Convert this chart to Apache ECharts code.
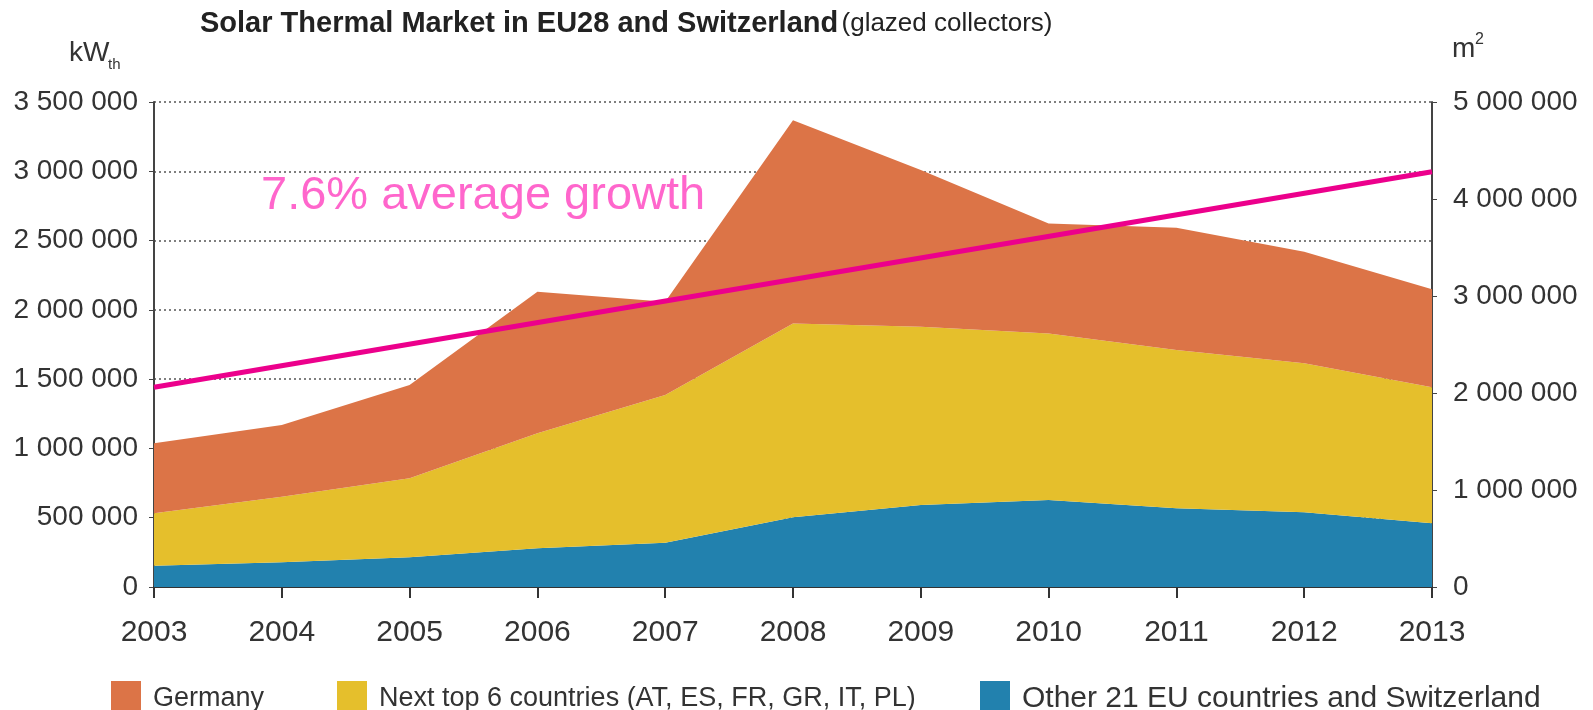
<!DOCTYPE html>
<html>
<head>
<meta charset="utf-8">
<script src="https://cdn.jsdelivr.net/npm/echarts@6/dist/echarts.min.js"></script>
<style>
html,body{margin:0;padding:0;background:#fff;}
#c{width:1593px;height:710px;}
</style>
</head>
<body>
<div id="c"></div>
<script>
// ---- data (kWth) ----
var years = ['2003','2004','2005','2006','2007','2008','2009','2010','2011','2012','2013'];
var other21 = [154000, 178000, 214000, 279000, 320000, 503000, 592000, 628000, 568000, 539000, 460000];
var nextTop6 = [378000, 474000, 570000, 830000, 1065000, 1399000, 1286000, 1202000, 1142000, 1075000, 981000];
var germany = [505000, 517000, 673000, 1022000, 673000, 1467000, 1131000, 794000, 883000, 805000, 707000];
// trend line: start (2003) and end (2013) values only
var trendStart = 1441000;
var trendEnd = 2996000;
var leftTicks = [0, 500000, 1000000, 1500000, 2000000, 2500000, 3000000, 3500000];
var rightTicks = [0, 1000000, 2000000, 3000000, 4000000, 5000000];
var names = ['Germany', 'Next top 6 countries (AT, ES, FR, GR, IT, PL)', 'Other 21 EU countries and Switzerland'];

var trend = years.map(function(y, i){ return i === 0 ? trendStart : (i === years.length - 1 ? trendEnd : null); });

function fmt(v){ return String(v).replace(/\B(?=(\d{3})+(?!\d))/g, ' '); }

var C_OR = '#DC7447', C_YE = '#E5BF2C', C_BL = '#2281AE', C_PK = '#EC008C';
var FONT = 'Liberation Sans';
var TXT = '#333333';

var chart = echarts.init(document.getElementById('c'), null, {renderer:'canvas'});
function legendFor(name, left, fs){
  return {
    data:[name], left:left, top:676, icon:'rect', itemWidth:30, itemHeight:36,
    textStyle:{fontFamily:FONT, fontSize:fs, color:TXT, padding:[0,0,0,7]},
    selectedMode:false
  };
}
var option = {
  animation:false,
  backgroundColor:'#ffffff',
  grid:{left:154, right:161, top:102, bottom:123, containLabel:false},
  legend:[legendFor(names[0],106,27), legendFor(names[1],332,27), legendFor(names[2],975,30)],
  xAxis:{
    type:'category', data:years, boundaryGap:false,
    axisLine:{show:true, lineStyle:{color:'#333', width:2}},
    axisTick:{show:true, alignWithLabel:true, length:11, lineStyle:{color:'#333', width:2}},
    axisLabel:{fontFamily:FONT, fontSize:30, color:TXT, margin:31},
    splitLine:{show:false}
  },
  yAxis:[{
    type:'value', min:0, max:3500000, interval:500000,
    axisLine:{show:true, lineStyle:{color:'#444', width:2}},
    axisTick:{show:true, length:5, lineStyle:{color:'#444'}},
    axisLabel:{fontFamily:FONT, fontSize:28, color:TXT, margin:16, formatter:function(v){return fmt(v);}},
    splitLine:{show:true, lineStyle:{color:'#555', type:[2,3], width:1.5}}
  },{
    type:'value', min:0, max:5000000, interval:1000000, position:'right',
    axisLine:{show:true, lineStyle:{color:'#444', width:2}},
    axisTick:{show:true, length:5, lineStyle:{color:'#444'}},
    axisLabel:{fontFamily:FONT, fontSize:28, color:TXT, margin:21, formatter:function(v){return fmt(v);}},
    splitLine:{show:false}
  }],
  graphic:[
    {type:'text', left:200, top:9, style:{
      text:'{b|Solar Thermal Market in EU28 and Switzerland} {n|(glazed collectors)}',
      rich:{
        b:{fontFamily:FONT, fontWeight:'bold', fontSize:29, fill:'#222'},
        n:{fontFamily:FONT, fontSize:26, fill:'#222'}
      }
    }},
    {type:'text', left:69, top:39, style:{text:'kW', fontFamily:FONT, fontSize:28, fill:TXT}},
    {type:'text', left:108, top:57, style:{text:'th', fontFamily:FONT, fontSize:15, fill:TXT}},
    {type:'text', left:1452, top:35, style:{text:'m', fontFamily:FONT, fontSize:28, fill:TXT}},
    {type:'text', left:1475, top:32, style:{text:'2', fontFamily:FONT, fontSize:16, fill:TXT}},
    {type:'text', left:261, top:173, style:{text:'7.6% average growth', fontFamily:FONT, fontSize:47, fill:'#FF66CC'}}
  ],
  series:[
    {name:names[2], type:'line', stack:'t', data:other21, color:C_BL, showSymbol:false, symbol:'none',
     lineStyle:{width:0}, areaStyle:{color:C_BL, opacity:1}},
    {name:names[1], type:'line', stack:'t', data:nextTop6, color:C_YE, showSymbol:false, symbol:'none',
     lineStyle:{width:0}, areaStyle:{color:C_YE, opacity:1}},
    {name:names[0], type:'line', stack:'t', data:germany, color:C_OR, showSymbol:false, symbol:'none',
     lineStyle:{width:0}, areaStyle:{color:C_OR, opacity:1}},
    {name:'trend', type:'line', data:trend, connectNulls:true, showSymbol:false, symbol:'none',
     lineStyle:{color:C_PK, width:5}, z:5}
  ]
};
chart.setOption(option);
</script>
</body>
</html>
